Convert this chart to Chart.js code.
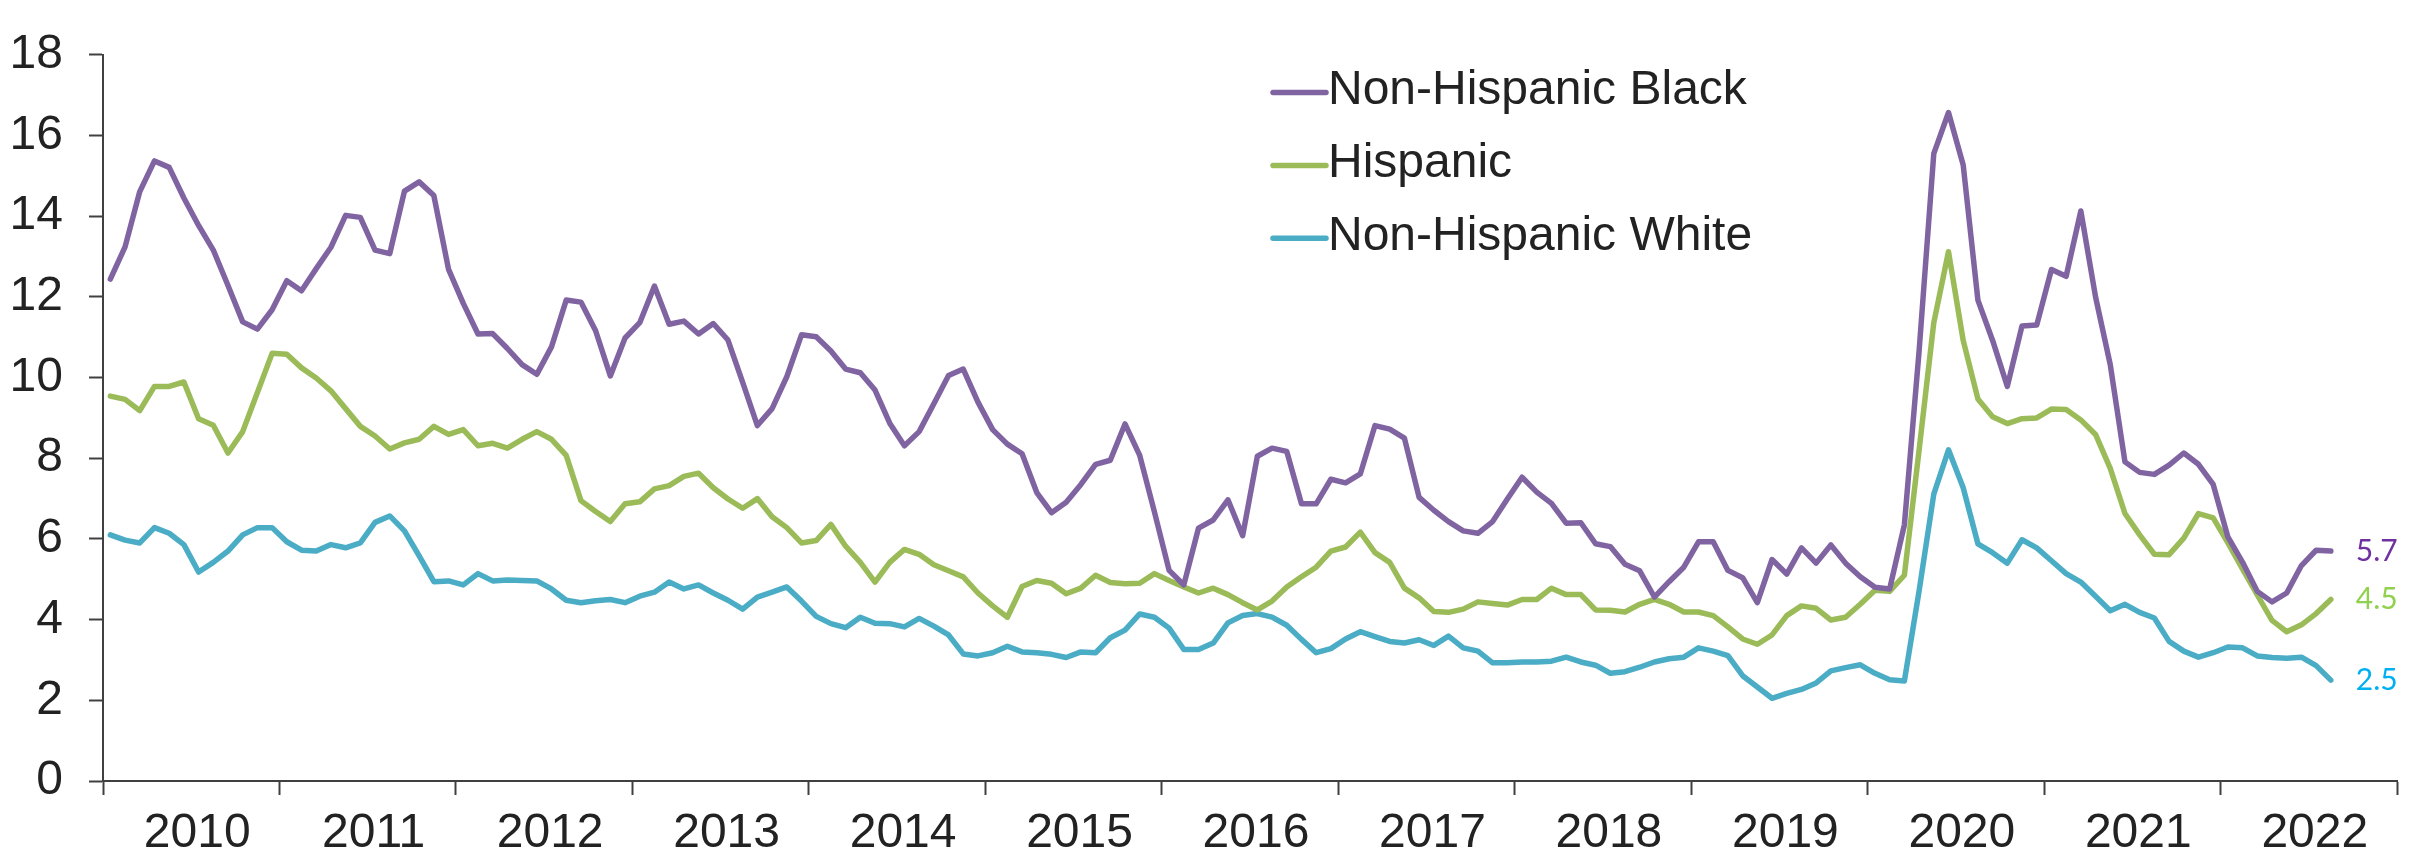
<!DOCTYPE html>
<html>
<head>
<meta charset="utf-8">
<title>Unemployment rate by race and ethnicity</title>
<script src="https://cdn.jsdelivr.net/npm/chart.js@4.4.1/dist/chart.umd.min.js"></script>
<style>
  html, body { margin: 0; padding: 0; background: #ffffff; }
  #wrap { position: relative; width: 2412px; height: 858px; }
</style>
</head>
<body>
<div id="wrap"><canvas id="rateChart"></canvas></div>
<script>
// monthly rates, Jan 2010 onward (one row per year)
var years = [2010, 2011, 2012, 2013, 2014, 2015, 2016, 2017, 2018, 2019, 2020, 2021, 2022];

var seriesNames = ['Non-Hispanic Black', 'Hispanic', 'Non-Hispanic White'];

var black = [
  12.44, 13.24, 14.61, 15.37, 15.21, 14.45, 13.77, 13.16, 12.28, 11.38, 11.20, 11.68,
  12.40, 12.15, 12.70, 13.23, 14.02, 13.97, 13.16, 13.07, 14.62, 14.85, 14.51, 12.68,
  11.84, 11.08, 11.09, 10.72, 10.32, 10.08, 10.76, 11.92, 11.87, 11.16, 10.04, 10.98,
  11.36, 12.27, 11.32, 11.40, 11.08, 11.34, 10.93, 9.88, 8.81, 9.23, 10.02, 11.06,
  11.01, 10.66, 10.21, 10.12, 9.69, 8.87, 8.31, 8.66, 9.35, 10.05, 10.21, 9.39,
  8.71, 8.35, 8.11, 7.15, 6.65, 6.91, 7.35, 7.85, 7.95, 8.85, 8.07, 6.67,
  5.22, 4.86, 6.27, 6.47, 6.97, 6.08, 8.05, 8.25, 8.17, 6.87, 6.87, 7.48,
  7.39, 7.61, 8.81, 8.72, 8.50, 7.03, 6.71, 6.43, 6.20, 6.14, 6.43, 6.99,
  7.53, 7.16, 6.88, 6.39, 6.40, 5.88, 5.81, 5.37, 5.21, 4.56, 4.94, 5.30,
  5.93, 5.93, 5.22, 5.04, 4.42, 5.49, 5.13, 5.78, 5.40, 5.85, 5.40, 5.06,
  4.80, 4.76, 6.35, 10.65, 15.55, 16.57, 15.27, 11.92, 10.92, 9.78, 11.28, 11.30,
  12.68, 12.51, 14.13, 12.00, 10.32, 7.91, 7.65, 7.60, 7.83, 8.13, 7.85, 7.35,
  6.05, 5.42, 4.70, 4.44, 4.66, 5.34, 5.72, 5.70
];

var hispanic = [
  9.54, 9.46, 9.18, 9.78, 9.78, 9.89, 8.98, 8.82, 8.13, 8.66, 9.63, 10.60,
  10.58, 10.24, 9.99, 9.67, 9.23, 8.79, 8.55, 8.23, 8.38, 8.47, 8.79, 8.59,
  8.71, 8.31, 8.37, 8.25, 8.47, 8.66, 8.47, 8.07, 6.95, 6.68, 6.43, 6.87,
  6.92, 7.24, 7.32, 7.55, 7.63, 7.27, 6.99, 6.76, 7.00, 6.55, 6.28, 5.90,
  5.96, 6.36, 5.82, 5.42, 4.93, 5.42, 5.74, 5.62, 5.36, 5.21, 5.06, 4.66,
  4.34, 4.06, 4.82, 4.97, 4.90, 4.64, 4.78, 5.10, 4.92, 4.89, 4.90, 5.14,
  4.97, 4.81, 4.66, 4.78, 4.62, 4.42, 4.24, 4.46, 4.81, 5.06, 5.30, 5.70,
  5.80, 6.17, 5.66, 5.42, 4.78, 4.54, 4.20, 4.18, 4.26, 4.44, 4.40, 4.36,
  4.50, 4.50, 4.78, 4.62, 4.62, 4.24, 4.23, 4.19, 4.38, 4.50, 4.38, 4.19,
  4.19, 4.10, 3.82, 3.52, 3.39, 3.62, 4.10, 4.34, 4.28, 3.99, 4.06, 4.38,
  4.73, 4.70, 5.10, 8.20, 11.36, 13.12, 10.92, 9.47, 9.03, 8.86, 8.98, 9.00,
  9.22, 9.21, 8.95, 8.59, 7.75, 6.63, 6.10, 5.62, 5.61, 6.02, 6.63, 6.52,
  5.90, 5.25, 4.61, 3.98, 3.70, 3.87, 4.15, 4.50
];

var white = [
  6.10, 5.97, 5.90, 6.28, 6.14, 5.86, 5.18, 5.42, 5.70, 6.10, 6.28, 6.28,
  5.93, 5.72, 5.70, 5.86, 5.78, 5.90, 6.41, 6.57, 6.20, 5.58, 4.94, 4.96,
  4.86, 5.14, 4.96, 4.98, 4.97, 4.96, 4.76, 4.48, 4.42, 4.47, 4.50, 4.42,
  4.58, 4.68, 4.93, 4.76, 4.86, 4.66, 4.48, 4.26, 4.56, 4.68, 4.81, 4.46,
  4.08, 3.90, 3.80, 4.06, 3.91, 3.90, 3.82, 4.03, 3.84, 3.62, 3.15, 3.10,
  3.18, 3.34, 3.20, 3.18, 3.14, 3.06, 3.20, 3.18, 3.55, 3.74, 4.14, 4.06,
  3.79, 3.26, 3.26, 3.42, 3.92, 4.10, 4.15, 4.06, 3.86, 3.51, 3.18, 3.28,
  3.52, 3.70, 3.58, 3.46, 3.42, 3.50, 3.36, 3.59, 3.30, 3.22, 2.93, 2.93,
  2.95, 2.95, 2.97, 3.07, 2.95, 2.87, 2.67, 2.71, 2.82, 2.95, 3.03, 3.07,
  3.30, 3.22, 3.11, 2.61, 2.33, 2.05, 2.17, 2.27, 2.43, 2.73, 2.81, 2.88,
  2.67, 2.51, 2.48, 4.71, 7.11, 8.21, 7.27, 5.88, 5.66, 5.40, 5.98, 5.78,
  5.46, 5.14, 4.93, 4.58, 4.22, 4.38, 4.18, 4.04, 3.46, 3.22, 3.07, 3.18,
  3.32, 3.30, 3.10, 3.06, 3.04, 3.07, 2.86, 2.50
];

var yTicks = [0, 2, 4, 6, 8, 10, 12, 14, 16, 18];

var lineColors = ['#8064A2', '#9BBB59', '#4BACC6'];
var endLabelColors = ['#7030A0', '#92D050', '#00B0F0'];
var axisColor = '#404040';
var textColor = '#222222';
var fontFamily = '"Liberation Sans", Arial, sans-serif';

// each month sits in the middle of its slot on a 0..156 month axis
function toPoints(values) {
  return values.map(function (v, i) { return { x: i + 0.5, y: v }; });
}

// legend drawn as a block in the upper middle of the plot
var seriesKey = {
  id: 'seriesKey',
  afterDraw: function (chart) {
    var ctx = chart.ctx;
    ctx.save();
    ctx.font = '48px ' + fontFamily;
    ctx.textBaseline = 'middle';
    ctx.textAlign = 'left';
    chart.data.datasets.forEach(function (ds, k) {
      var y = 92.5 + 72.9 * k;
      ctx.strokeStyle = ds.borderColor;
      ctx.lineWidth = 5.5;
      ctx.lineCap = 'round';
      ctx.beginPath();
      ctx.moveTo(1273, y);
      ctx.lineTo(1326, y);
      ctx.stroke();
      ctx.fillStyle = textColor;
      ctx.fillText(ds.label, 1328, y - 1.5);
    });
    ctx.restore();
  }
};

// latest value printed just right of each line's end
var endLabels = {
  id: 'endLabels',
  afterDatasetsDraw: function (chart) {
    var ctx = chart.ctx;
    ctx.save();
    ctx.font = '30px Lato, "Open Sans", sans-serif';
    ctx.textBaseline = 'middle';
    ctx.textAlign = 'left';
    chart.data.datasets.forEach(function (ds, k) {
      var meta = chart.getDatasetMeta(k);
      var last = meta.data[meta.data.length - 1];
      var value = ds.data[ds.data.length - 1].y;
      ctx.fillStyle = endLabelColors[k];
      ctx.fillText(value.toFixed(1), last.x + 25, last.y);
    });
    ctx.restore();
  }
};

var ctx = document.getElementById('rateChart').getContext('2d');
var rateChart = new Chart(ctx, {
  type: 'line',
  data: {
    datasets: [black, hispanic, white].map(function (values, k) {
      return {
        label: seriesNames[k],
        data: toPoints(values),
        borderColor: lineColors[k],
        backgroundColor: lineColors[k],
        borderWidth: 5.5,
        borderJoinStyle: 'round',
        borderCapStyle: 'round',
        pointRadius: 0,
        tension: 0,
        fill: false
      };
    })
  },
  options: {
    responsive: true,
    maintainAspectRatio: false,
    devicePixelRatio: 1,
    animation: false,
    layout: { padding: { top: 32, right: 1, bottom: 0, left: 0 } },
    plugins: {
      legend: { display: false },
      tooltip: { enabled: false }
    },
    scales: {
      x: {
        type: 'linear',
        min: 0,
        max: years.length * 12,
        afterFit: function (scale) { scale.height = 77; },
        border: { display: true, color: axisColor, width: 2 },
        grid: {
          drawOnChartArea: false,
          drawTicks: true,
          tickLength: 14,
          tickWidth: 2,
          // tick marks only at year boundaries
          tickColor: function (c) {
            return (c.tick && c.tick.value % 12 === 0) ? axisColor : 'rgba(0,0,0,0)';
          }
        },
        ticks: {
          stepSize: 6,
          autoSkip: false,
          maxRotation: 0,
          minRotation: 0,
          padding: 15,
          labelOffset: 6,
          color: textColor,
          font: { family: fontFamily, size: 48, lineHeight: 1 },
          callback: function (value) {
            return value % 12 === 6 ? String(years[(value - 6) / 12]) : '';
          }
        }
      },
      y: {
        min: 0,
        max: 18,
        afterFit: function (scale) { scale.width = 103; },
        afterBuildTicks: function (scale) {
          scale.ticks = yTicks.map(function (v) { return { value: v }; });
        },
        border: { display: true, color: axisColor, width: 2 },
        grid: {
          drawOnChartArea: false,
          drawTicks: true,
          tickLength: 14,
          tickWidth: 2,
          tickColor: axisColor
        },
        ticks: {
          padding: 26,
          color: textColor,
          font: { family: fontFamily, size: 48, lineHeight: 1.2 }
        }
      }
    }
  },
  plugins: [seriesKey, endLabels]
});
</script>
</body>
</html>
